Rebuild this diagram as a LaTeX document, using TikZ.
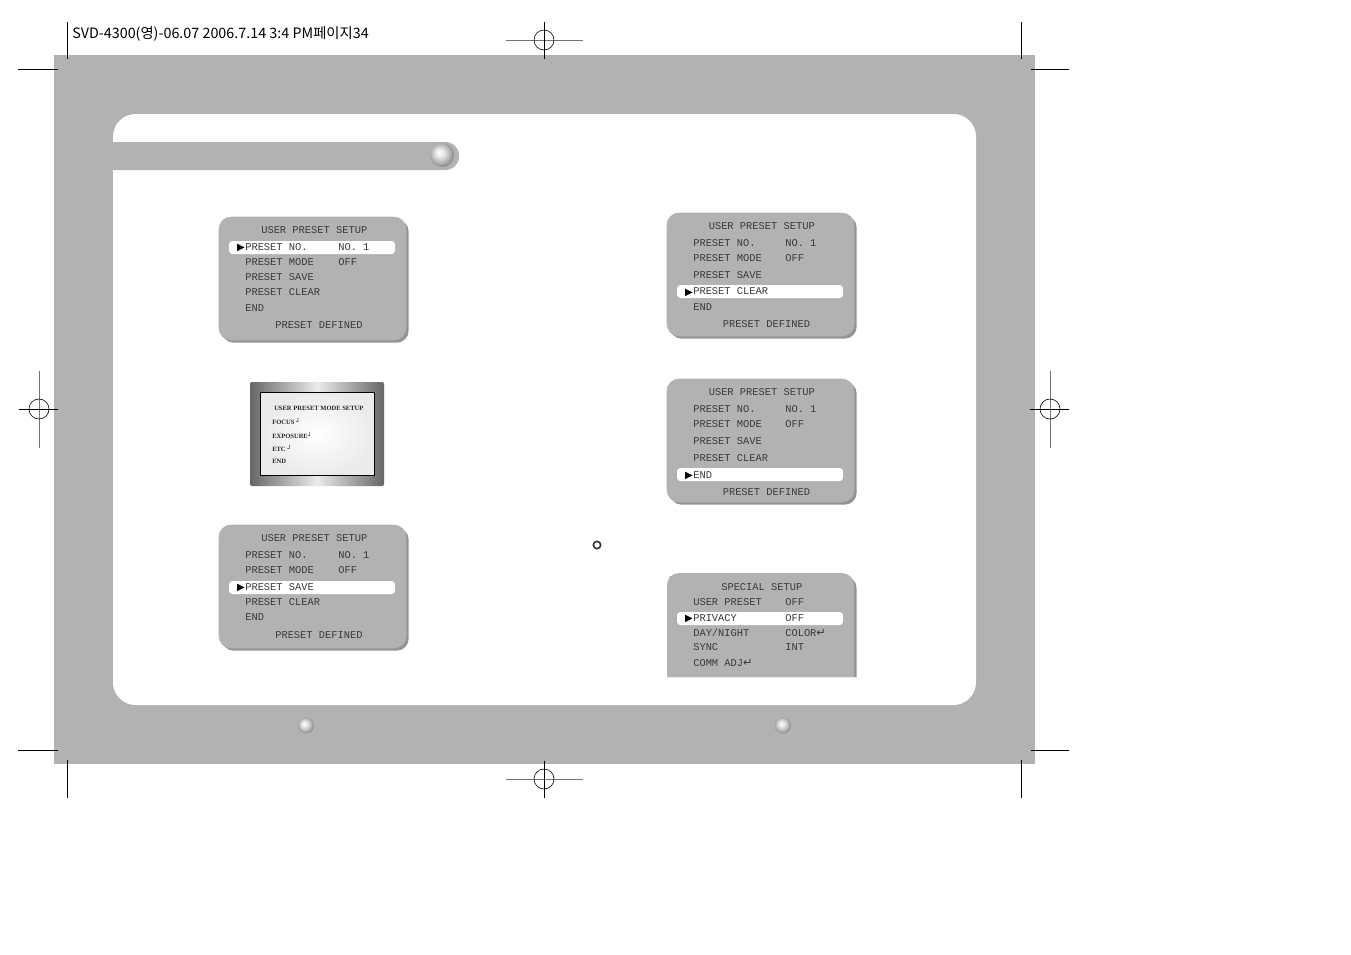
\documentclass[tikz,border=0pt]{standalone}
\usepackage{fontspec}
\setmonofont{Liberation Mono}
\newfontfamily\krfont{Noto Sans CJK KR}
\newfontfamily\symfont{DejaVu Sans}
\newfontfamily\monfont{Liberation Serif}
\usetikzlibrary{shadows}
\definecolor{pagegray}{HTML}{B2B2B2}
\definecolor{osdink}{HTML}{3A3A3A}
\pgfdeclareradialshading{pearl}{\pgfpoint{-6bp}{6bp}}{color(0bp)=(white); color(9bp)=(black!10); color(20bp)=(black!30); color(30bp)=(black!52); color(50bp)=(black!60)}
\newcommand{\retmark}{{\symfont\fontsize{8.5}{8}\selectfont\char"21B5}}
\newcommand{\cornermark}{{\symfont\fontsize{5}{5}\selectfont\char"2518}}
\tikzset{
  osdpanel/.style={fill=pagegray, draw=pagegray, rounded corners=9pt},
  osdshadow/.style={drop shadow={shadow xshift=2pt, shadow yshift=-2pt, fill=black!42, opacity=1}},
  osdbar/.style={fill=white, rounded corners=2.5pt},
  osdtext/.style={anchor=west, inner sep=0pt, text=osdink, font=\ttfamily\fontsize{7.8}{9}\selectfont},
  osdmark/.style={anchor=center, inner sep=0pt, text=black, font=\symfont\fontsize{7.5}{8}\selectfont},
  montext/.style={anchor=west, inner sep=0pt, text=black!85, font=\monfont\bfseries\fontsize{4.9}{6}\selectfont},
  cropline/.style={draw=black, line width=.55pt},
  regline/.style={draw=black!55, line width=.55pt},
  regcircle/.style={draw=black, line width=.45pt},
  pageball/.style={shading=pearl, draw=none}
}
\begin{document}
\begin{tikzpicture}[x=.75pt, y=-.75pt]
\useasboundingbox (0,0) rectangle (1351,954);
% page
\fill[pagegray] (54,55) rectangle (1035,764);
\fill[white] (113,114) [rounded corners=17pt] rectangle (976,705);
\fill[pagegray, rounded corners=10pt] (100,142) -- (459,142) -- (459,170) -- (100,170) [sharp corners] -- cycle;
\fill[pagegray] (100,142) rectangle (113,170);
\shade[pageball] (442,155) circle (12);
\shade[pageball] (306,725.5) circle (8);
\shade[pageball] (783,725.5) circle (8);
% crop marks
\foreach \x/\ya/\yb in {67/22/59, 1021/22/59, 67/760/798, 1021/760/798}{
\draw[cropline] (\x,\ya) -- (\x,\yb);}
\foreach \y/\xa/\xb in {69/18/58, 69/1031/1069, 750/18/58, 750/1031/1069}{
\draw[cropline] (\xa,\y) -- (\xb,\y);}
% registration marks
\foreach \x/\y in {544/40, 544/779}{
\draw[regline] (\x-38.5,\y) -- (\x+38.5,\y);
\draw[cropline] (\x,\y-18.5) -- (\x,\y+18.5);
\draw[regcircle] (\x,\y) circle (10);}
\foreach \x/\y in {39/409, 1050/409}{
\draw[regline] (\x,\y-38.5) -- (\x,\y+38.5);
\draw[cropline] (\x-20,\y) -- (\x+19,\y);
\draw[regcircle] (\x,\y) circle (10);}
\node[anchor=west, inner sep=0pt, font=\krfont\fontsize{10.75}{12}\selectfont] (slug) at (72,33.5)
{SVD-4300(영)-06.07 2006.7.14 3:4 PM페이지34};
% left column
\draw[osdpanel, osdshadow] (219,217) rectangle (406,340);
\fill[osdbar] (229,241) rectangle (395,254);
\node[osdmark] (amark) at (241,248) {\char"25B6};
\foreach \i/\x/\y/\t in {0/261/230/USER PRESET SETUP, 1/245/247/PRESET NO., 2/338/247/NO. 1, 3/245/262/PRESET MODE,
4/338/262/OFF, 5/245/277/PRESET SAVE, 6/245/292/PRESET CLEAR, 7/245/308/END, 8/275/325/PRESET DEFINED}{
\node[osdtext] (a\i) at (\x,\y) {\t};}
% monitor
\shade[left color=black!60, right color=black!60, middle color=black!8, rounded corners=1.5pt] (250,382) rectangle (384,486);
\draw[black, line width=.8pt, inner color=white, outer color=black!8] (260.5,392.5) rectangle (374.5,475.5);
\foreach \i/\x/\y/\t in {0/274/408/USER PRESET MODE SETUP, 1/272/421/FOCUS \cornermark, 2/272/435/EXPOSURE\cornermark,
3/272/448/ETC \cornermark, 4/272/461/END}{
\node[montext] (m\i) at (\x,\y) {\t};}
\draw[osdpanel, osdshadow] (219,525) rectangle (406,648);
\fill[osdbar] (229,581) rectangle (395,594);
\node[osdmark] (bmark) at (241,588) {\char"25B6};
\foreach \i/\x/\y/\t in {0/261/538/USER PRESET SETUP, 1/245/555/PRESET NO., 2/338/555/NO. 1, 3/245/570/PRESET MODE,
4/338/570/OFF, 5/245/587/PRESET SAVE, 6/245/602/PRESET CLEAR, 7/245/617/END, 8/275/635/PRESET DEFINED}{
\node[osdtext] (b\i) at (\x,\y) {\t};}
% right column
\draw[osdpanel, osdshadow] (667,213) rectangle (854,336);
\fill[osdbar] (677,285) rectangle (843,298);
\node[osdmark] (cmark) at (689,292.5) {\char"25B6};
\foreach \i/\x/\y/\t in {0/708.5/226/USER PRESET SETUP, 1/693/243/PRESET NO., 2/785/243/NO. 1, 3/693/258/PRESET MODE,
4/785/258/OFF, 5/693/275/PRESET SAVE, 6/693/291/PRESET CLEAR, 7/693/307/END, 8/722.5/324/PRESET DEFINED}{
\node[osdtext] (c\i) at (\x,\y) {\t};}
\draw[osdpanel, osdshadow] (667,379) rectangle (854,502);
\fill[osdbar] (677,468) rectangle (843,481);
\node[osdmark] (dmark) at (689,475.5) {\char"25B6};
\foreach \i/\x/\y/\t in {0/708.5/392/USER PRESET SETUP, 1/693/409/PRESET NO., 2/785/409/NO. 1, 3/693/424/PRESET MODE,
4/785/424/OFF, 5/693/441/PRESET SAVE, 6/693/458/PRESET CLEAR, 7/693/475/END, 8/722.5/492/PRESET DEFINED}{
\node[osdtext] (d\i) at (\x,\y) {\t};}
\node[draw=black!80, line width=1.2pt, circle, minimum size=5.5pt, inner sep=0pt] (ring) at (597,545) {};
% cut off panel
\fill[black!42] (669.5,576) [rounded corners=9pt] -- (856.5,576) [sharp corners] -- (856.5,677) -- (669.5,677) -- cycle;
\fill[pagegray] (667,677) [rounded corners=9pt] -- (667,573) -- (854,573) [sharp corners] -- (854,677) -- cycle;
\fill[osdbar] (677,612) rectangle (843,625);
\node[osdmark] (emark) at (689,619) {\char"25B6};
\foreach \i/\x/\y/\t in {0/721/587/SPECIAL SETUP, 1/693/602/USER PRESET, 2/785/602/OFF, 3/693/618/PRIVACY,
4/785/618/OFF, 5/693/633/{DAY/NIGHT}, 6/785/633/COLOR\retmark, 7/693/647/SYNC, 8/785/647/INT, 9/693/663/COMM ADJ\retmark}{
\node[osdtext] (e\i) at (\x,\y) {\t};}
\end{tikzpicture}
\end{document}
